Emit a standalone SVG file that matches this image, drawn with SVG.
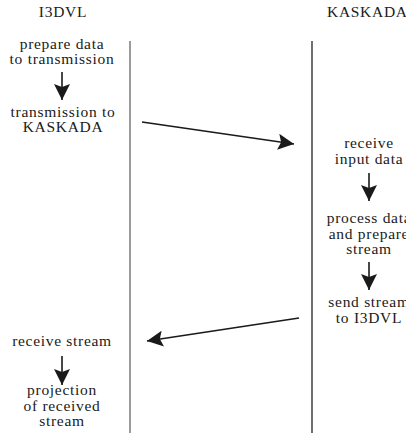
<svg xmlns="http://www.w3.org/2000/svg" width="406" height="437" viewBox="0 0 406 437">
<style>
text{font-family:"Liberation Serif","DejaVu Serif",serif;font-size:15.5px;fill:#1a1a1a;text-anchor:middle;letter-spacing:0.7px}
.lane{stroke-width:1.3}
.c{stroke:#1a1a1a;stroke-width:1.6;fill:none}
</style>
<defs>
<marker id="ah" viewBox="0 0 16 16" refX="16" refY="8" markerWidth="16" markerHeight="16" markerUnits="userSpaceOnUse" orient="auto">
<path d="M0,0 L16,8 L0,16 L3,8 Z" fill="#1a1a1a"/>
</marker>
</defs>
<g id="lanes">
<line class="lane" x1="130" y1="41" x2="130" y2="433" stroke="#666"/>
<line class="lane" x1="312" y1="41" x2="312" y2="433" stroke="#222"/>
</g>
<g id="head-i3dvl"><text x="63" y="17">I3DVL</text></g>
<g id="head-kaskada"><text x="327" y="17" style="text-anchor:start">KASKADA</text></g>
<g id="n1"><text x="62" y="49">prepare data</text><text x="62" y="64">to transmission</text></g>
<g id="n2"><text x="63" y="117">transmission to</text><text x="63" y="132">KASKADA</text></g>
<g id="n3"><text x="369" y="148">receive</text><text x="369" y="164">input data</text></g>
<g id="n4"><text x="369" y="223">process data</text><text x="369" y="239">and prepare</text><text x="369" y="254">stream</text></g>
<g id="n5"><text x="369" y="307">send stream</text><text x="369" y="323">to I3DVL</text></g>
<g id="n6"><text x="62" y="346">receive stream</text></g>
<g id="n7"><text x="62" y="395">projection</text><text x="62" y="411">of received</text><text x="62" y="426">stream</text></g>
<g id="connectors">
<line class="c" x1="62" y1="72" x2="62" y2="100" marker-end="url(#ah)"/>
<line class="c" x1="142" y1="122" x2="294" y2="144" marker-end="url(#ah)"/>
<line class="c" x1="369" y1="173" x2="369" y2="201" marker-end="url(#ah)"/>
<line class="c" x1="369" y1="262" x2="369" y2="290" marker-end="url(#ah)"/>
<line class="c" x1="299" y1="318" x2="147" y2="341" marker-end="url(#ah)"/>
<line class="c" x1="62" y1="356" x2="62" y2="385" marker-end="url(#ah)"/>
</g>
</svg>
